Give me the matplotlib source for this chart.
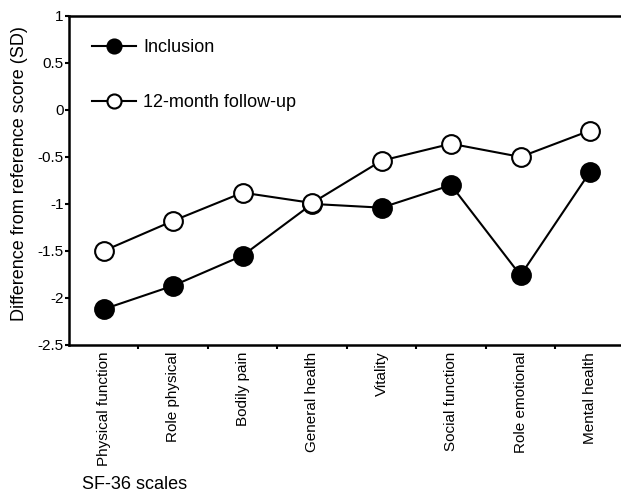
import matplotlib
matplotlib.use("Agg")
import matplotlib.pyplot as plt
import numpy as np

plt.rcParams['font.family'] = ['Liberation Sans', 'DejaVu Sans']

scales = ["Physical function", "Role physical", "Bodily pain", "General health",
          "Vitality", "Social function", "Role emotional", "Mental health"]
inclusion = [-2.12, -1.87, -1.55, -1.00, -1.04, -0.80, -1.76, -0.66]
followup = [-1.50, -1.18, -0.88, -0.99, -0.54, -0.36, -0.50, -0.22]

fig = plt.figure(figsize=(6.21, 4.97), dpi=100)
ax = fig.add_axes([0.111, 0.306, 0.895, 0.662])

x = np.arange(len(scales))
ax.plot(x, inclusion, color='black', lw=1.5, marker='o', ms=13.5,
        mfc='black', mec='black', mew=1.5, label='Inclusion', zorder=3)
ax.plot(x, followup, color='black', lw=1.5, marker='o', ms=13.5,
        mfc='white', mec='black', mew=1.5, label='12-month follow-up', zorder=4)

ax.set_xlim(-0.5, 7.5)
ax.set_ylim(-2.5, 1)
ax.set_yticks([1, 0.5, 0, -0.5, -1, -1.5, -2, -2.5])
ax.set_yticklabels(['1', '0.5', '0', '-0.5', '-1', '-1.5', '-2', '-2.5'], fontsize=11)

# boundary ticks between categories, labels at centres
ax.set_xticks(np.arange(0.5, 7.5, 1))
ax.set_xticklabels([])
ax.set_xticks(x, minor=True)
ax.set_xticklabels(scales, minor=True, rotation=90, fontsize=11, va='top')
ax.tick_params(axis='x', which='minor', length=0, pad=5)
ax.tick_params(axis='x', which='major', length=3, width=1.5, direction='out')
ax.tick_params(axis='y', length=3, width=1.5, direction='out', pad=1)

for s in ['left', 'bottom', 'top']:
    ax.spines[s].set_linewidth(1.8)
ax.spines['right'].set_visible(False)

ax.set_ylabel('Difference from reference score (SD)', fontsize=13)
ax.yaxis.set_label_coords(-0.074, 0.52)
fig.text(0.132, 0.008, 'SF-36 scales', fontsize=13, ha='left', va='bottom')

leg = ax.legend(loc='upper left', frameon=False, fontsize=13, handlelength=2.4,
                labelspacing=2.1, markerscale=0.75, borderaxespad=0.9,
                handletextpad=0.4)

fig.savefig('out.png', dpi=100)
